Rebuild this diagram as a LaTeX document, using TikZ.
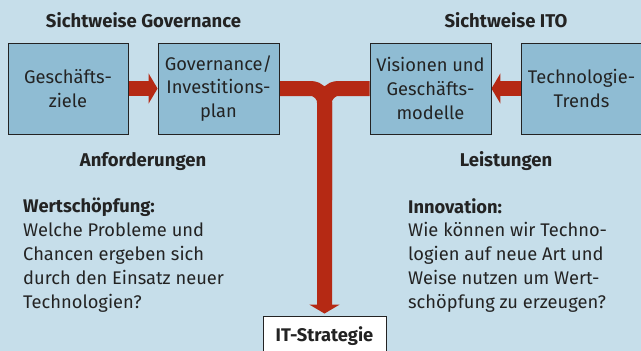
\documentclass[tikz,border=0pt]{standalone}
\usepackage{fontspec}
\setmainfont{Fira Sans}
\usetikzlibrary{arrows.meta}
\definecolor{bg}{RGB}{198,222,234}
\definecolor{boxfill}{RGB}{143,188,211}
\definecolor{pipered}{RGB}{181,41,20}
\definecolor{txt}{RGB}{35,35,35}
\pgfdeclarelayer{bottom}
\pgfdeclarelayer{back}
\pgfsetlayers{bottom,back,main}
\begin{document}
\begin{tikzpicture}[x=1pt,y=-1pt,
  blk/.style={draw=txt, line width=0.9pt, fill=boxfill, minimum width=120pt, minimum height=91pt,
    inner sep=0pt, align=center, font=\fontsize{18.3}{23.7}\selectfont, text=txt},
  pipe/.style={draw=pipered, line width=15pt},
  head/.style={-{Triangle[length=9pt,width=30pt]}},
  hdr/.style={font=\bfseries\fontsize{18.5}{20}\selectfont, text=txt, anchor=base, inner sep=0pt},
  para/.style={anchor=north west, align=left, inner sep=0pt, font=\fontsize{18.3}{23.8}\selectfont, text=txt}]
\begin{pgfonlayer}{bottom}
  \fill[bg] (0,0) rectangle (641,351);
\end{pgfonlayer}
\useasboundingbox (0,0) rectangle (641,351);

\node[blk] (b1) at (68,88.5) {Geschäfts-\\ziele};
\node[blk, minimum width=121pt] (b2) at (218.5,88.5) {Governance/\\Investitions-\\plan};
\node[blk, minimum width=121pt] (b3) at (430.5,88.5) {Visionen und\\Geschäfts-\\modelle};
\node[blk, minimum width=121pt] (b4) at (581.5,88.5) {Technologie-\\Trends};

\node[draw=txt, fill=white, line width=0.9pt, minimum width=123pt, minimum height=40pt,
  inner sep=0pt, text=txt, font=\bfseries\fontsize{18.3}{20}\selectfont] (it) at (324.5,336) {IT-Strategie};

\node[hdr] (h1) at (143.5,27) {Sichtweise Governance};
\node[hdr] (h2) at (506,27) {Sichtweise ITO};
\node[hdr] (h3) at (143,166) {Anforderungen};
\node[hdr] (h4) at (506,166) {Leistungen};

\node[para] (p1) at (23,198) {{\bfseries Wertschöpfung:}\\Welche Probleme und\\Chancen ergeben sich\\durch den Einsatz neuer\\Technologien?};
\node[para] (p2) at (408,198) {{\bfseries Innovation:}\\Wie können wir Techno-\\logien auf neue Art und\\Weise nutzen um Wert-\\schöpfung zu erzeugen?};

\coordinate (stemmid) at (324.5,200);
\begin{pgfonlayer}{back}
  \draw[pipe, head] (b1.east) -- (b2.west);
  \draw[pipe, head] (b4.west) -- (b3.east);
  \draw[pipe, head, rounded corners=14pt, shorten >=2pt] (b2.east) -| (it.north);
  \draw[pipe, rounded corners=14pt] (b3.west) -| (stemmid);
\end{pgfonlayer}
\end{tikzpicture}
\end{document}
